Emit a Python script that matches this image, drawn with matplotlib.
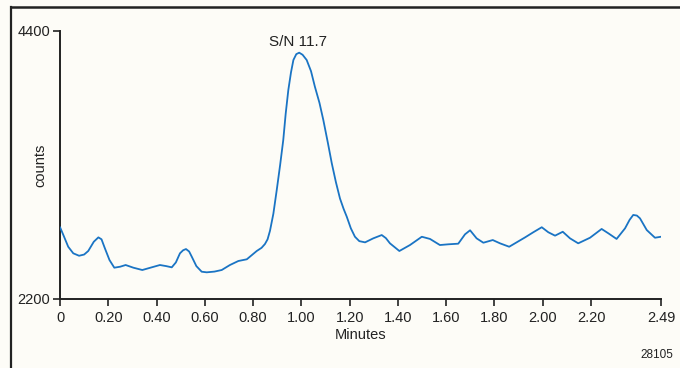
import matplotlib
matplotlib.use("Agg")
import matplotlib.pyplot as plt
from matplotlib.lines import Line2D

# ── Data ─────────────────────────────────────────────────────────────────────
minutes = [
    0.000, 0.015, 0.034, 0.055, 0.079, 0.100, 0.117, 0.140, 0.159, 0.172,
    0.186, 0.205, 0.225, 0.249, 0.272, 0.304, 0.341, 0.380, 0.414, 0.440,
    0.463, 0.480, 0.497, 0.510, 0.522, 0.535, 0.546, 0.565, 0.587, 0.608,
    0.640, 0.670, 0.704, 0.739, 0.774, 0.815, 0.835, 0.849, 0.860, 0.870,
    0.884, 0.898, 0.912, 0.925, 0.935, 0.946, 0.957, 0.967, 0.979, 0.991,
    1.005, 1.022, 1.040, 1.056, 1.075, 1.091, 1.110, 1.126, 1.143, 1.160,
    1.175, 1.188, 1.205, 1.222, 1.240, 1.264, 1.298, 1.333, 1.350, 1.367,
    1.406, 1.450, 1.499, 1.533, 1.574, 1.609, 1.650, 1.678, 1.699, 1.726,
    1.754, 1.793, 1.823, 1.861, 1.927, 1.961, 1.996, 2.023, 2.051, 2.083,
    2.113, 2.147, 2.196, 2.244, 2.272, 2.306, 2.341, 2.360, 2.375, 2.390,
    2.403, 2.431, 2.465, 2.490,
]
counts = [
    2790, 2720, 2629, 2575, 2555, 2565, 2594, 2670, 2706, 2690,
    2616, 2520, 2457, 2465, 2479, 2457, 2438, 2460, 2479, 2470,
    2460, 2500, 2575, 2600, 2610, 2590, 2547, 2470, 2424, 2419,
    2425, 2438, 2479, 2512, 2526, 2594, 2620, 2651, 2690, 2760,
    2900, 3095, 3300, 3505, 3720, 3916, 4060, 4162, 4210, 4222,
    4205, 4162, 4070, 3943, 3810, 3669, 3480, 3314, 3160, 3025,
    2940, 2876, 2780, 2711, 2675, 2665, 2698, 2725, 2700, 2657,
    2594, 2643, 2711, 2693, 2643, 2649, 2654, 2731, 2764, 2698,
    2662, 2684, 2657, 2629, 2706, 2748, 2789, 2748, 2720, 2752,
    2698, 2657, 2703, 2775, 2739, 2693, 2780, 2850, 2890, 2885,
    2862, 2766, 2703, 2711,
]

x_ticks = [0, 0.2, 0.4, 0.6, 0.8, 1.0, 1.2, 1.4, 1.6, 1.8, 2.0, 2.2, 2.49]
x_tick_labels = ["0", "0.20", "0.40", "0.60", "0.80", "1.00", "1.20",
                 "1.40", "1.60", "1.80", "2.00", "2.20", "2.49"]
y_ticks = [2200, 4400]
y_tick_labels = ["2200", "4400"]

peak_label = "S/N 11.7"
fig_id = "28105"

# ── Style ────────────────────────────────────────────────────────────────────
BG = "#fdfcf7"
LINE = "#1a74c4"
INK = "#222222"

plt.rcParams["font.family"] = ["Liberation Sans Narrow", "Liberation Sans", "DejaVu Sans"]

fig = plt.figure(figsize=(6.8, 3.68), dpi=100)
fig.patch.set_facecolor(BG)
ax = fig.add_axes([60 / 680, 69 / 368, 601 / 680, 268 / 368])
ax.set_facecolor(BG)

ax.plot(minutes, counts, color=LINE, lw=1.3, solid_joinstyle="round",
        solid_capstyle="round", zorder=3)

ax.set_xlim(0, 2.49)
ax.set_ylim(2200, 4400)
ax.set_xticks(x_ticks)
ax.set_xticklabels(x_tick_labels)
ax.set_yticks(y_ticks)
ax.set_yticklabels(y_tick_labels)
ax.tick_params(axis="both", direction="out", length=5, width=1.2,
               colors=INK, labelsize=10.5, pad=2)
ax.tick_params(axis="x", pad=4)

for side in ("top", "right"):
    ax.spines[side].set_visible(False)
for side in ("left", "bottom"):
    ax.spines[side].set_color(INK)
    ax.spines[side].set_linewidth(1.4)

ax.set_ylabel("counts", fontsize=10.5, color=INK, va="center")
ax.yaxis.set_label_coords(-20 / 601, 0.5)
ax.set_xlabel("Minutes", fontsize=10.5, color=INK, labelpad=2)

ax.text(0.986, 4310, peak_label, ha="center", va="center",
        fontsize=11, color=INK)

fig.text(657 / 680, 1 - 355 / 368, fig_id, ha="center", va="center",
         fontsize=8.5, color=INK)

# outer frame (left and top edges only)
fig.add_artist(Line2D([11 / 680, 11 / 680], [0, 1 - 6.5 / 368],
                      transform=fig.transFigure, color=INK, lw=1.6))
fig.add_artist(Line2D([11 / 680, 1], [1 - 6.5 / 368, 1 - 6.5 / 368],
                      transform=fig.transFigure, color=INK, lw=1.8))

fig.savefig("out.png", dpi=100, facecolor=BG)
